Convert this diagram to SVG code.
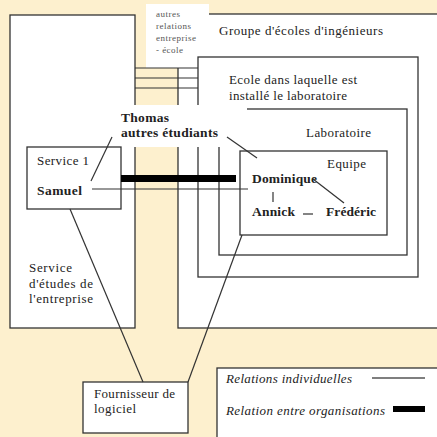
<svg xmlns="http://www.w3.org/2000/svg" width="437" height="437" viewBox="0 0 437 437">
<style>
.b{fill:#fff;stroke:#333;stroke-width:1.3}
.w{fill:#fff;stroke:none}
.l{stroke:#333;stroke-width:1.2;fill:none}
text{font-family:'Liberation Serif','DejaVu Serif',serif;font-size:13px;fill:#222}
.bd{font-weight:bold;font-size:13.5px}
.it{font-style:italic}
.sm{font-size:9px;fill:#555}
</style>
<rect x="0" y="0" width="437" height="437" fill="#FDF0CE"/>
<g id="service-etudes">
<rect class="b" x="10" y="15" width="125" height="313"/>
<text x="29" y="272" textLength="43">Service</text>
<text x="29" y="288" textLength="64">d'études de</text>
<text x="29" y="303" textLength="64">l'entreprise</text>
</g>
<g id="groupe">
<rect class="b" x="178" y="14" width="270" height="314"/>
<text x="219" y="35" textLength="164">Groupe d'écoles d'ingénieurs</text>
</g>
<g id="autres-relations">
<rect class="w" x="146" y="4" width="63" height="64"/>
<text class="sm" x="156" y="17" textLength="24">autres</text>
<text class="sm" x="156" y="29" textLength="35">relations</text>
<text class="sm" x="156" y="41" textLength="40">entreprise</text>
<text class="sm" x="156" y="53" textLength="27">- école</text>
</g>
<g id="ecole">
<rect class="b" x="198" y="57" width="220" height="220"/>
<text x="229" y="84" textLength="128">Ecole dans laquelle est</text>
<text x="229" y="100" textLength="118">installé le laboratoire</text>
</g>
<g id="laboratoire">
<rect class="b" x="219" y="109" width="188" height="146"/>
<text x="306" y="137" textLength="65">Laboratoire</text>
</g>
<g id="thomas">
<rect class="w" x="117" y="105" width="130" height="42"/>
<text class="bd" x="121" y="122" textLength="48">Thomas</text>
<text class="bd" x="121" y="137" textLength="97">autres étudiants</text>
</g>
<g id="service1">
<rect class="b" x="27" y="147" width="94" height="62"/>
<text x="37" y="165" textLength="52">Service 1</text>
<text class="bd" x="37" y="195" textLength="45">Samuel</text>
</g>
<g id="equipe">
<rect class="b" x="240" y="151" width="147" height="84"/>
<text x="327" y="168" textLength="39">Equipe</text>
<text class="bd" x="252" y="183" textLength="65">Dominique</text>
<text class="bd" x="252" y="216" textLength="43">Annick</text>
<text class="bd" x="326" y="216" textLength="50">Frédéric</text>
</g>
<g id="fournisseur">
<rect class="b" x="83" y="382" width="105" height="51"/>
<text x="94" y="398" textLength="81">Fournisseur de</text>
<text x="94" y="413" textLength="42">logiciel</text>
</g>
<g id="connectors">
<line class="l" x1="135" y1="68" x2="198" y2="68"/>
<line class="l" x1="135" y1="78" x2="198" y2="78"/>
<line class="l" x1="135" y1="88" x2="198" y2="88"/>
<rect x="121" y="175" width="115" height="7" fill="#000"/>
<line class="l" x1="92" y1="189" x2="248" y2="189"/>
<line class="l" x1="112" y1="137" x2="91" y2="181"/>
<line class="l" x1="227" y1="137" x2="257" y2="158"/>
<line class="l" x1="70" y1="209" x2="143" y2="382"/>
<line class="l" x1="242" y1="235" x2="188" y2="382"/>
<line class="l" x1="313" y1="179" x2="344" y2="203"/>
<line class="l" x1="273" y1="192" x2="273" y2="202"/>
<line class="l" x1="303" y1="214" x2="313" y2="214"/>
</g>
<g id="legende">
<rect class="b" x="217" y="368" width="230" height="80"/>
<text class="it" x="226" y="383" textLength="126">Relations individuelles</text>
<line x1="372" y1="378" x2="425" y2="378" stroke="#555" stroke-width="1.5"/>
<text class="it" x="226" y="415" textLength="159">Relation entre organisations</text>
<rect x="393" y="406" width="32" height="6" fill="#000"/>
</g>
</svg>
